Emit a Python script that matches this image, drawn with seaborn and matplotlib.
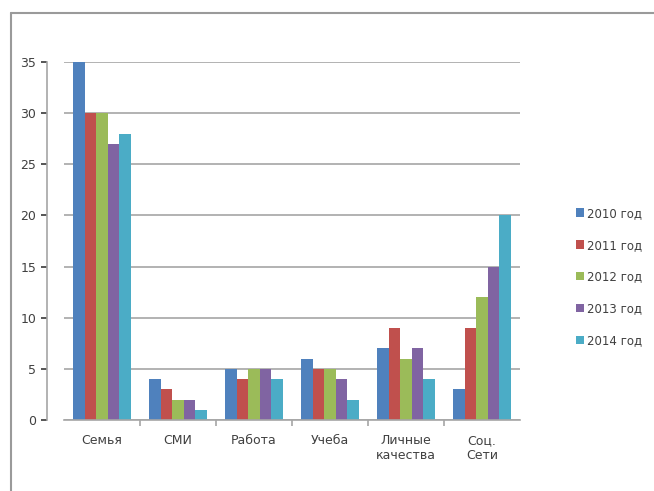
import matplotlib
matplotlib.use("Agg")
import matplotlib.pyplot as plt
from matplotlib.lines import Line2D
import seaborn as sns
import pandas as pd

categories = ["Семья", "СМИ", "Работа", "Учеба", "Личные\nкачества", "Соц.\nСети"]
years = ["2010 год", "2011 год", "2012 год", "2013 год", "2014 год"]
values_2010 = [35, 4, 5, 6, 7, 3]
values_2011 = [30, 3, 4, 5, 9, 9]
values_2012 = [30, 2, 5, 5, 6, 12]
values_2013 = [27, 2, 5, 4, 7, 15]
values_2014 = [28, 1, 4, 2, 4, 20]
y_ticks = [0, 5, 10, 15, 20, 25, 30, 35]
colors = ["#4F81BD", "#C0504D", "#9BBB59", "#8064A2", "#4BACC6"]

series = [values_2010, values_2011, values_2012, values_2013, values_2014]
rows = []
for year, vals in zip(years, series):
    for cat, v in zip(categories, vals):
        rows.append({"Категория": cat, "Год": year, "Значение": v})
df = pd.DataFrame(rows)

sns.set_theme(style="white")
plt.rcParams["font.family"] = ["DejaVu Sans"]

fig = plt.figure(figsize=(6.54, 4.91), dpi=100)
W, H = 654, 491
ax = fig.add_axes([64 / W, 1 - 420 / H, 456 / W, 358 / H])

sns.barplot(data=df, x="Категория", y="Значение", hue="Год",
            palette=colors, width=0.76, gap=0.0, ax=ax,
            edgecolor="none", linewidth=0, saturation=1)

ax.set_ylim(0, 35)
ax.set_yticks(y_ticks)
ax.set_xlim(-0.5, len(categories) - 0.5)
ax.yaxis.grid(True, color="#A6A6A6", linewidth=1.2)
ax.set_axisbelow(True)
ax.set_xlabel("")
ax.set_ylabel("")
for side in ["top", "right"]:
    ax.spines[side].set_visible(False)
for side in ["left", "bottom"]:
    ax.spines[side].set_color("#A6A6A6")
    ax.spines[side].set_linewidth(1.2)
ax.spines["left"].set_position(("outward", 12))
ax.tick_params(axis="y", labelsize=9, colors="#404040", length=4, direction="out",
               left=True, pad=4)
ax.tick_params(axis="x", which="major", labelsize=9, colors="#404040", length=0, pad=10)
ax.set_xticks(range(len(categories)))
ax.set_xticklabels(categories)
ax.set_xticks([i + 0.5 for i in range(len(categories) - 1)], minor=True)
ax.tick_params(axis="x", which="minor", bottom=True, length=4, direction="out",
               color="#A6A6A6", width=1.2)

leg = ax.legend(loc="center left", bbox_to_anchor=(565 / W, 1 - 277 / H),
                bbox_transform=fig.transFigure, frameon=False,
                fontsize=8.5, handlelength=0.7, handleheight=0.7,
                handletextpad=0.3, labelspacing=1.6, labelcolor="#404040")

fig.add_artist(Line2D([11 / W, 11 / W], [0, 1 - 13 / H], color="#9A9A9A", linewidth=1.5))
fig.add_artist(Line2D([11 / W, 1], [1 - 13 / H, 1 - 13 / H], color="#9A9A9A", linewidth=1.5))

fig.savefig("out.png", dpi=100)
